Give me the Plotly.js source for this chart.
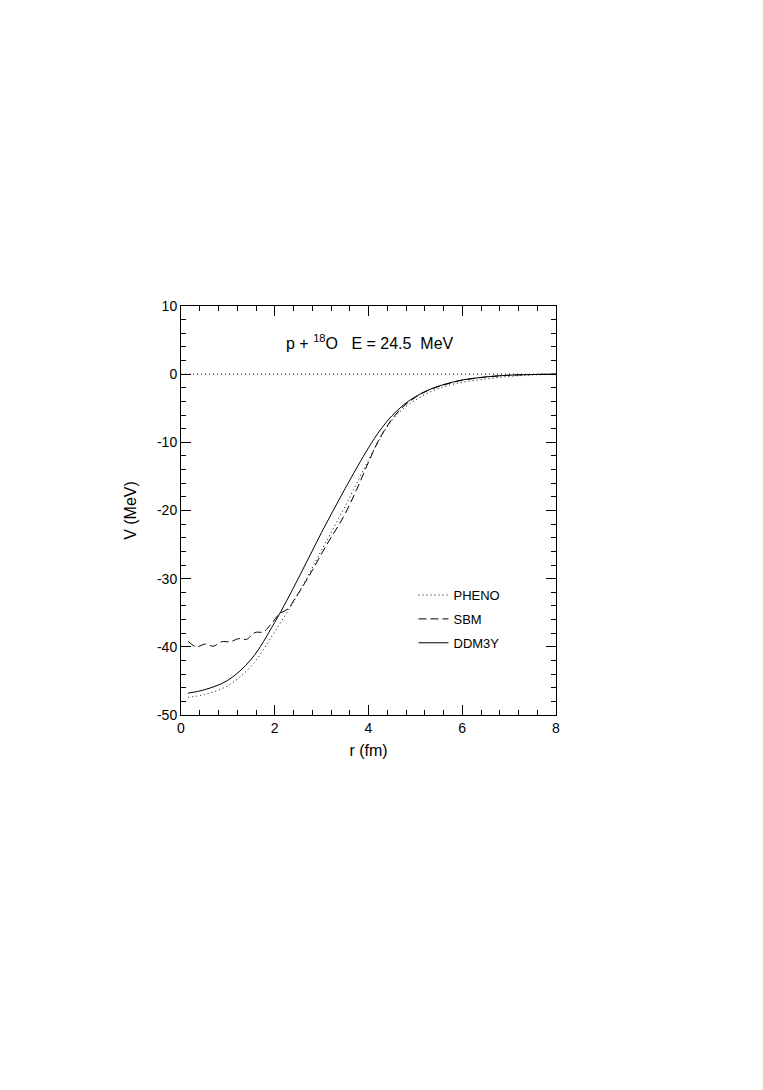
<!DOCTYPE html>
<html>
<head>
<meta charset="utf-8">
<script src="https://cdn.plot.ly/plotly-3.0.1.min.js"></script>
<style>
  body { margin: 0; background: #fff; }
  #chart { width: 763px; height: 1090px; }
</style>
</head>
<body>
<div id="chart"></div>
<script>
// values
let rPheno = [0.15, 0.5, 1.0, 1.5, 2.0, 2.5, 3.0, 3.5, 4.0, 4.25, 4.5, 4.75, 5.0, 5.25, 5.5, 5.75, 6.0, 6.5, 7.0, 7.5, 8.0];
let vPheno = [-47.4, -47.0, -45.7, -42.8, -37.8, -32.2, -25.8, -19.4, -12.6, -9.4, -6.8, -5.0, -3.8, -2.8, -2.1, -1.55, -1.2, -0.7, -0.33, -0.12, 0];

let rSbm = [0.15, 0.33, 0.51, 0.69, 0.87, 1.05, 1.23, 1.4, 1.58, 1.76, 1.94, 2.11, 2.29, 2.43, 2.52, 2.61, 2.8, 3.11, 3.46, 3.75, 4.0, 4.24, 4.5, 4.75, 5.0, 5.25, 5.5, 5.75, 6.0, 6.5, 7.0, 7.5, 8.0];
let vSbm = [-39.2, -40.0, -39.6, -39.9, -39.25, -39.25, -38.8, -38.9, -37.9, -37.8, -36.5, -35.1, -34.4, -32.9, -32.0, -31.0, -28.8, -25.0, -21.0, -16.9, -12.9, -9.4, -6.6, -4.7, -3.4, -2.45, -1.8, -1.3, -0.9, -0.42, -0.16, -0.05, 0];

let rDdm = [0.15, 0.5, 1.0, 1.5, 2.0, 2.5, 3.0, 3.5, 4.0, 4.25, 4.5, 4.75, 5.0, 5.25, 5.5, 5.75, 6.0, 6.5, 7.0, 7.5, 8.0];
let vDdm = [-46.8, -46.3, -44.9, -41.8, -36.4, -30.0, -23.2, -16.8, -10.8, -8.2, -6.1, -4.5, -3.3, -2.4, -1.75, -1.25, -0.85, -0.4, -0.15, -0.05, 0];

let rZero = [0, 8];
let vZero = [0, 0];

let xTicks = [0, 2, 4, 6, 8];
let yTicks = [-50, -40, -30, -20, -10, 0, 10];

let font = 'Liberation Sans, Arial, sans-serif';

let data = [
  {x: rZero, y: vZero, mode: 'lines', showlegend: false, hoverinfo: 'skip',
   line: {color: 'black', width: 1, dash: '1px,3px'}},
  {x: rPheno, y: vPheno, mode: 'lines', name: 'PHENO', legendgroup: 'a',
   line: {color: 'black', width: 1, dash: '1px,3px', shape: 'spline', smoothing: 1}},
  {x: rSbm, y: vSbm, mode: 'lines', name: 'SBM', legendgroup: 'b',
   line: {color: 'black', width: 1, dash: '8px,4px', shape: 'spline', smoothing: 1}},
  {x: rDdm, y: vDdm, mode: 'lines', name: 'DDM3Y', legendgroup: 'c',
   line: {color: 'black', width: 1, shape: 'spline', smoothing: 1}}
];

let axisStyle = {
  showgrid: false, zeroline: false, showline: true, linecolor: 'black', linewidth: 1,
  mirror: 'ticks', ticks: 'inside', ticklen: 10, tickcolor: 'black', tickwidth: 1,
  tickmode: 'array',
  tickfont: {family: font, size: 14, color: 'black'}
};

let layout = {
  width: 763, height: 1090,
  margin: {l: 181, r: 207, t: 306, b: 375},
  paper_bgcolor: 'white', plot_bgcolor: 'white',
  font: {family: font, color: 'black'},
  showlegend: true,
  legend: {x: 0.62, y: 0.33, xanchor: 'left', yanchor: 'top',
           bgcolor: 'rgba(0,0,0,0)', font: {family: font, size: 13, color: 'black'},
           tracegroupgap: 4},
  xaxis: Object.assign({}, axisStyle, {
    range: [0, 8], tickvals: xTicks, ticktext: xTicks.map(String),
    minor: {tickmode: 'linear', tick0: 0, dtick: 0.4, ticklen: 5, ticks: 'inside', tickcolor: 'black', showgrid: false},
    title: {text: 'r (fm)', font: {family: font, size: 16}, standoff: 10}
  }),
  yaxis: Object.assign({}, axisStyle, {
    range: [-50, 10], tickvals: yTicks, ticktext: yTicks.map(String),
    minor: {tickmode: 'linear', tick0: 0, dtick: 2, ticklen: 5, ticks: 'inside', tickcolor: 'black', showgrid: false},
    title: {text: 'V (MeV)', font: {family: font, size: 16}, standoff: 16}
  }),
  annotations: [{
    x: 4.03, y: 4.7, xref: 'x', yref: 'y', showarrow: false,
    text: 'p + <sup>18</sup>O   E = 24.5  MeV',
    font: {family: font, size: 16, color: 'black'}
  }]
};

Plotly.newPlot('chart', data, layout, {displayModeBar: false, staticPlot: true});
</script>
</body>
</html>
